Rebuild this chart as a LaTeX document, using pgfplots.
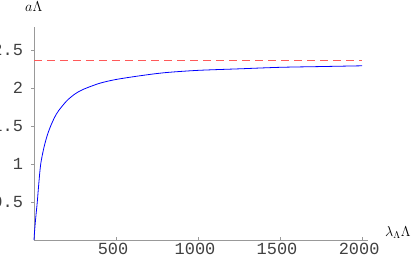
\documentclass[border=0pt]{standalone}
\usepackage{fontspec}
\setmonofont{Liberation Mono}
\usepackage{pgfplots}
\pgfplotsset{compat=1.18}
\definecolor{axgray}{gray}{0.6}
\definecolor{dashred}{rgb}{1,0.35,0.35}
\begin{document}
\begin{tikzpicture}
\begin{axis}[
  at={(0,0)}, anchor=origin,
  scale only axis,
  width=334bp, height=213bp,
  xmin=0, xmax=2036, ymin=0, ymax=2.8,
  axis lines=left,
  axis line style={axgray, -},
  every tick/.style={axgray},
  xtick={500,1000,1500,2000},
  ytick={0.5,1,1.5,2,2.5},
  xtick align=inside,
  ytick align=outside,
  major tick length=2.5bp,
  tick label style={font=\fontsize{17}{17}\selectfont\ttfamily, text=black!75},
  /pgf/number format/assume math mode=true,
  /pgf/number format/1000 sep={},
  xticklabel style={yshift=0bp, xshift=-3bp},
  yticklabel style={xshift=-5bp},
  clip=false,
]
\addplot[dashred, line width=0.9pt, dash pattern=on 8bp off 5bp] coordinates {(0,2.355) (2000,2.355)};
\addplot[blue, line width=0.8pt, smooth] coordinates {
(0,0) (3,0.1) (6,0.18) (10,0.28) (15,0.39) (20,0.5) (30,0.76) (41,1.0) (60,1.21) (80,1.37) (100,1.49) (125,1.61) (150,1.70) (200,1.83) (250,1.92) (300,1.98) (400,2.06) (500,2.11) (650,2.16) (800,2.20) (1000,2.23) (1250,2.25) (1500,2.27) (1750,2.28) (2000,2.29)
};
\end{axis}
\node[anchor=base west, font=\fontsize{14}{14}\selectfont, inner sep=0pt] at (-9bp,228bp) {$a\Lambda$};
\node[anchor=base west, font=\fontsize{14}{14}\selectfont, inner sep=0pt] at (351bp,4bp) {$\lambda_\Lambda\Lambda$};
\pgfresetboundingbox
\path (-34bp,-15bp) rectangle (381bp,240bp);
\end{tikzpicture}
\end{document}
